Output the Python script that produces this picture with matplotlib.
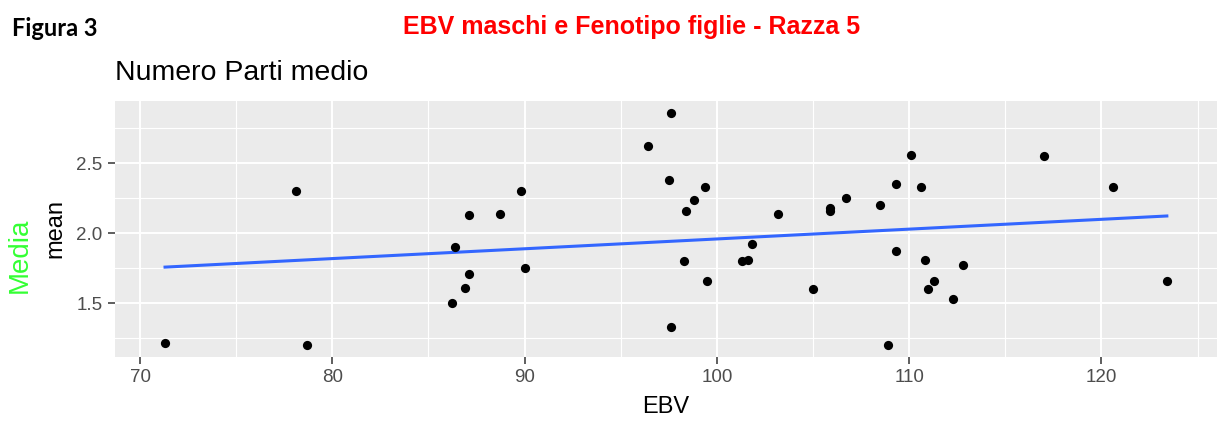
import numpy as np
import matplotlib.pyplot as plt
from matplotlib.ticker import MultipleLocator

# data (EBV of sires vs mean number of calvings of daughters)
ebv = [71.3, 78.1, 78.7, 86.2, 86.4, 86.9, 87.1, 87.1, 88.7, 89.8, 90.0,
       96.4, 97.5, 97.6, 97.6, 98.3, 98.4, 98.8, 99.4, 99.5, 101.3, 101.6,
       101.8, 103.2, 105.0, 105.9, 105.9, 106.7, 108.5, 108.9, 109.3, 109.3,
       110.1, 110.6, 110.8, 111.0, 111.3, 112.3, 112.8, 117.0, 120.6, 123.4]
mean = [1.22, 2.30, 1.20, 1.50, 1.90, 1.61, 2.13, 1.71, 2.14, 2.30, 1.75,
        2.62, 2.38, 2.86, 1.33, 1.80, 2.16, 2.24, 2.33, 1.66, 1.80, 1.81,
        1.92, 2.14, 1.60, 2.18, 2.16, 2.25, 2.20, 1.20, 2.35, 1.87,
        2.56, 2.33, 1.81, 1.60, 1.66, 1.53, 1.77, 2.55, 2.33, 1.66]

x_ticks = [70, 80, 90, 100, 110, 120]
y_ticks = [1.5, 2.0, 2.5]

fig = plt.figure(figsize=(12.19, 4.28), dpi=100)
ax = fig.add_axes([0.0943, 0.166, 0.904, 0.598])

ax.set_facecolor('#EBEBEB')
for s in ax.spines.values():
    s.set_visible(False)

x = np.array(ebv)
y = np.array(mean)
ax.scatter(x, y, s=44, color='black', zorder=3, linewidths=0)

# linear fit (geom_smooth method = lm, no se)
k, b = np.polyfit(x, y, 1)
xs = np.linspace(x.min(), x.max(), 100)
ax.plot(xs, k * xs + b, color='#3366FF', lw=2.2, zorder=2)

xr = x.max() - x.min()
yr = y.max() - y.min()
ax.set_xlim(x.min() - 0.05 * xr, x.max() + 0.05 * xr)
ax.set_ylim(y.min() - 0.05 * yr, y.max() + 0.05 * yr)

ax.set_xticks(x_ticks)
ax.set_yticks(y_ticks)
ax.set_yticklabels(['1.5', '2.0', '2.5'])
ax.xaxis.set_minor_locator(MultipleLocator(5))
ax.yaxis.set_minor_locator(MultipleLocator(0.25))
ax.grid(which='major', color='white', lw=1.4)
ax.grid(which='minor', color='white', lw=0.8)
ax.set_axisbelow(True)
ax.tick_params(which='major', length=5, width=1.1, color='#333333',
               labelcolor='#4D4D4D', labelsize=13.5, pad=4)
ax.tick_params(which='minor', length=0)
for lab in ax.get_xticklabels() + ax.get_yticklabels():
    lab.set_family('Liberation Sans')

ax.set_xlabel('EBV', fontsize=17, family='Liberation Sans', labelpad=7)
ax.set_ylabel('mean', fontsize=17, family='Liberation Sans', labelpad=7)

fig.text(0.0943, 0.829, 'Numero Parti medio', fontsize=20.5,
         family='Liberation Sans', va='center', ha='left')
fig.text(0.518, 0.937, 'EBV maschi e Fenotipo figlie - Razza 5', color='#FF0000',
         fontsize=18, fontweight='bold', family='Liberation Sans',
         ha='center', va='center')
fig.text(0.010, 0.934, 'Figura 3', fontsize=17, fontweight='bold',
         family='Lato', ha='left', va='center')
fig.text(0.0165, 0.404, 'Media', color='#33FF33', fontsize=20,
         family='Liberation Sans', rotation=90, ha='center', va='center')

fig.savefig('out.png', dpi=100)
